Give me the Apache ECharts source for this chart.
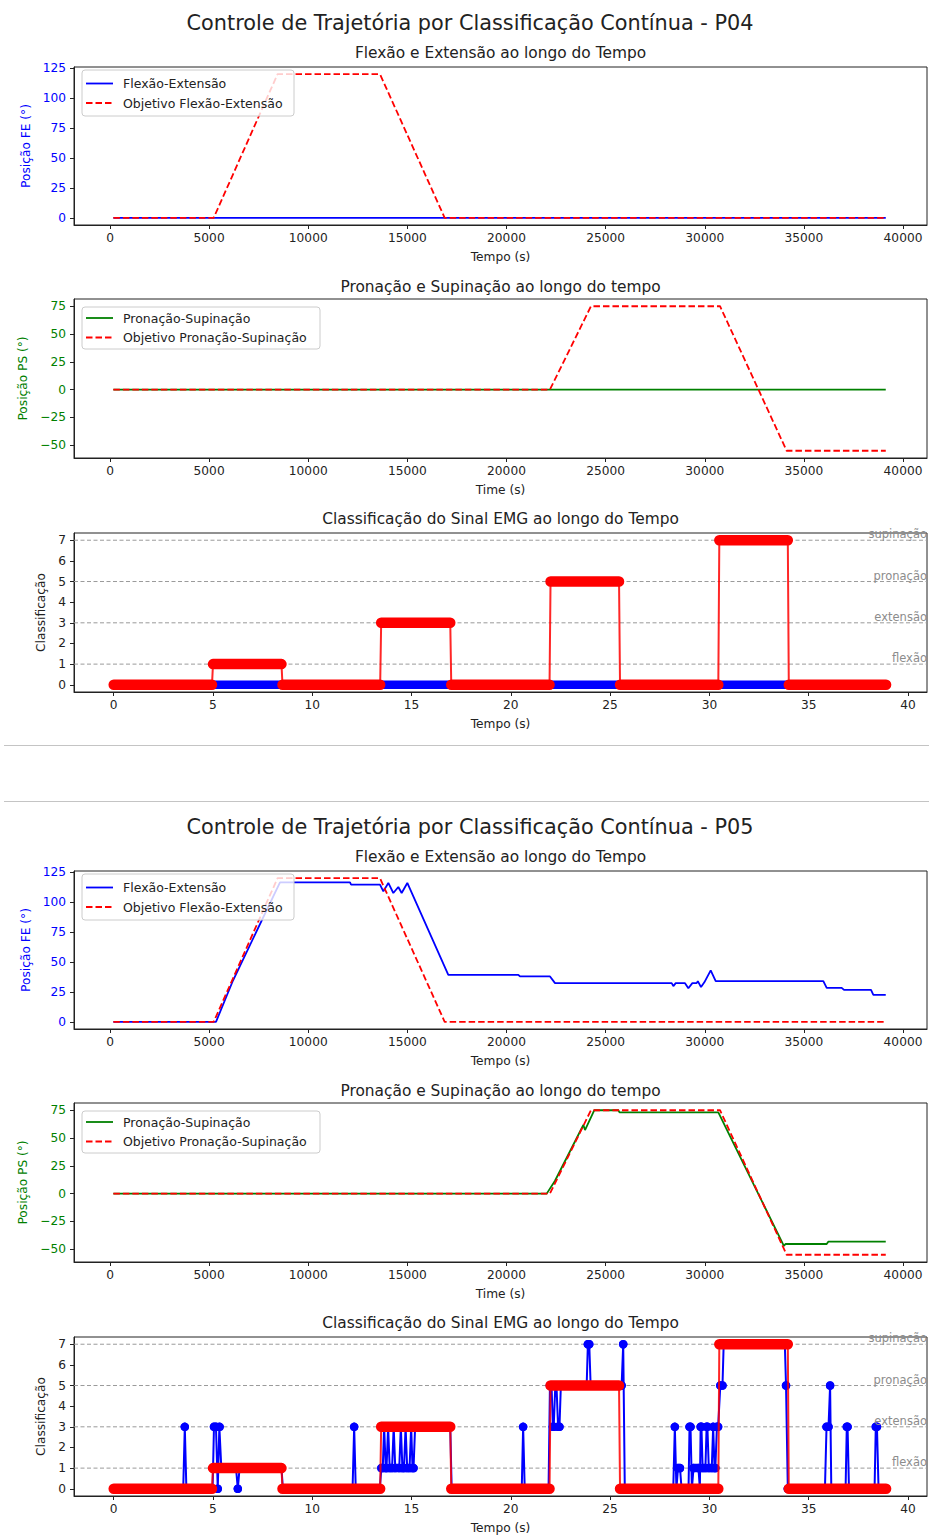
<!DOCTYPE html>
<html><head><meta charset="utf-8">
<script src="https://cdn.jsdelivr.net/npm/echarts@6/dist/echarts.min.js"></script>
<style>html,body{margin:0;padding:0;background:#fff}#c{width:929px;height:1535px}</style>
</head><body><div id="c"></div>
<script>
// ================= DATA =================
const msTicks = [0, 5000, 10000, 15000, 20000, 25000, 30000, 35000, 40000];
const feTicks = [0, 25, 50, 75, 100, 125];
const psTicks = [-50, -25, 0, 25, 50, 75];
const secTicks = [0, 5, 10, 15, 20, 25, 30, 35, 40];
const classTicks = [0, 1, 2, 3, 4, 5, 6, 7];
const classLevels = [1, 3, 5, 7];
const classNames = ['flexão', 'extensão', 'pronação', 'supinação'];

// target trajectories (ms, degrees)
const targetFeT = [170, 5230, 8450, 13620, 16880, 39130];
const targetFeV = [0, 0, 120, 120, 0, 0];
const targetPsT = [170, 22190, 24260, 30770, 34130, 39130];
const targetPsV = [0, 0, 75, 75, -55, -55];

// P04 measured
const p04FeT = [170, 39130];
const p04FeV = [0, 0];
const p04PsT = [170, 39130];
const p04PsV = [0, 0];

// P05 measured
const p05FeT = [170, 5347, 6204, 8575, 12106, 12160, 13619, 13787, 14039, 14291, 14543, 14711, 14997, 17064, 20597, 20680, 22195, 22447, 28332, 28416, 28534, 29004, 29172, 29374, 29592, 29650, 29811, 29979, 30300, 30552, 35981, 36150, 36907, 37024, 38386, 38504, 39130];
const p05FeV = [0, 0, 34.5, 116.5, 116.5, 114.6, 114.6, 109, 116, 107.6, 112.6, 107.6, 116, 39.3, 39.3, 37.9, 37.9, 32.3, 32.3, 29.8, 32.3, 32.3, 28, 32.3, 32.3, 34, 29, 33, 43, 34, 34, 28.4, 28.4, 26.7, 26.7, 22.5, 22.5];
const p05PsT = [170, 22027, 22447, 23876, 23960, 24430, 25641, 25700, 30685, 33990, 34080, 36150, 36230, 39130];
const p05PsV = [0, 0, 11.6, 61.7, 57.2, 75, 75, 73, 73, -47, -45.3, -45.3, -43.2, -43.2];

// classification runs: [start s, end s, class]
const targetClassRuns = [[0, 4.95, 0], [5.0, 8.45, 1], [8.5, 13.42, 0], [13.47, 16.95, 3], [17.0, 21.95, 0], [22.0, 25.45, 5], [25.5, 30.45, 0], [30.5, 33.95, 7], [34.0, 38.9, 0]];
const p04ClassRuns = [[0, 38.9, 0]];
const p05ClassRuns = [
 [0, 3.5, 0], [3.58, 3.58, 3], [3.66, 4.98, 0], [5.05, 5.15, 3], [5.24, 5.24, 0], [5.32, 5.34, 3],
 [5.42, 6.16, 1], [6.25, 6.25, 0], [6.34, 8.45, 1], [8.52, 12.03, 0], [12.11, 12.11, 3], [12.19, 13.4, 0],
 [13.48, 13.55, 1], [13.62, 13.62, 3], [13.7, 13.74, 1], [13.82, 13.82, 3], [13.9, 14.02, 1], [14.1, 14.1, 3],
 [14.18, 14.38, 1], [14.46, 14.46, 3], [14.54, 14.62, 1], [14.7, 14.7, 3], [14.78, 14.9, 1], [14.98, 14.98, 3],
 [15.05, 15.1, 1], [15.18, 16.95, 3], [17.02, 20.55, 0], [20.62, 20.62, 3], [20.7, 21.9, 0], [21.97, 22.05, 5],
 [22.12, 22.16, 3], [22.24, 22.3, 5], [22.38, 22.45, 3], [22.52, 23.82, 5], [23.88, 23.95, 7], [24.02, 25.58, 5],
 [25.66, 25.66, 7], [25.74, 28.18, 0], [28.26, 28.26, 3], [28.34, 28.34, 0], [28.42, 28.52, 1], [28.6, 28.95, 0],
 [29.0, 29.05, 3], [29.12, 29.12, 0], [29.2, 29.45, 1], [29.52, 29.52, 0], [29.56, 29.6, 3], [29.66, 29.8, 1],
 [29.86, 29.9, 3], [29.97, 30.12, 1], [30.19, 30.19, 3], [30.26, 30.3, 1], [30.38, 30.44, 3], [30.55, 30.66, 5],
 [30.72, 33.8, 7], [33.86, 33.86, 5], [33.95, 35.82, 0], [35.9, 36.0, 3], [36.08, 36.08, 5], [36.14, 36.86, 0],
 [36.92, 36.96, 3], [37.03, 38.32, 0], [38.38, 38.44, 3], [38.52, 38.9, 0]
];

// ================= HELPERS =================
const FONT = '"DejaVu Sans", sans-serif';
const TXT = '#222';
const BLUE = '#0000ff', RED = '#ff0000', GREEN = '#008000';
const fmt = v => v < 0 ? '\u2212' + Math.abs(v) : String(v);
const xy = (ts, vs) => ts.map((t, i) => [t, vs[i]]);
const runLine = runs => { const o = []; runs.forEach(r => { o.push([r[0], r[2]], [r[1], r[2]]); }); return o; };
const runBand = runs => { const o = []; runs.forEach(r => { o.push([r[0], r[2]], [r[1], r[2]], [NaN, NaN]); }); return o; };

const OFF = 804;
const gridTops = [67, 299, 533, 67 + OFF, 299 + OFF, 533 + OFF];
const gridHeights = [158, 159, 159, 158, 159, 159];
const msRange = [-1816, 41210];
const secRange = [-2.0, 40.96];

function xAx(gi, range, ticks, name) {
  return {
    gridIndex: gi, type: 'value', min: range[0], max: range[1], name, nameLocation: 'middle', nameGap: 26,
    nameTextStyle: { color: TXT, fontSize: 12.2, fontFamily: FONT },
    axisLine: { show: true, onZero: false, lineStyle: { color: TXT, width: 1 } },
    axisTick: { show: true, length: 4, lineStyle: { color: TXT, width: 1 }, customValues: ticks },
    axisLabel: { show: true, margin: 7, color: TXT, fontSize: 12.2, fontFamily: FONT, customValues: ticks, formatter: fmt },
    splitLine: { show: false }
  };
}
function yAx(gi, min, max, ticks, name, color, nameGap) {
  return {
    gridIndex: gi, type: 'value', min, max, name, nameLocation: 'middle', nameGap,
    nameTextStyle: { color, fontSize: 12.2, fontFamily: FONT },
    axisLine: { show: true, onZero: false, lineStyle: { color: TXT, width: 1 } },
    axisTick: { show: true, length: 4, lineStyle: { color: TXT, width: 1 }, customValues: ticks },
    axisLabel: { show: true, margin: 8, color, fontSize: 12.2, fontFamily: FONT, customValues: ticks, formatter: fmt },
    splitLine: { show: false }
  };
}

const grids = gridTops.map((t, i) => ({ left: 74, top: t, width: 853, height: gridHeights[i], show: true, borderColor: TXT, borderWidth: 1, backgroundColor: 'transparent' }));

const xAxes = [], yAxes = [];
for (let f = 0; f < 2; f++) {
  const b = f * 3;
  xAxes.push(xAx(b, msRange, msTicks, 'Tempo (s)'));
  xAxes.push(xAx(b + 1, msRange, msTicks, 'Time (s)'));
  xAxes.push(xAx(b + 2, secRange, secTicks, 'Tempo (s)'));
  yAxes.push(yAx(b, -6, 126, feTicks, 'Posição FE (°)', BLUE, 40));
  yAxes.push(yAx(b + 1, -61.5, 81.5, psTicks, 'Posição PS (°)', GREEN, 40));
  yAxes.push(yAx(b + 2, -0.35, 7.35, classTicks, 'Classificação', TXT, 23));
}

function lineS(idx, data, color, width, dash, z) {
  return { type: 'line', xAxisIndex: idx, yAxisIndex: idx, data, symbol: 'none', z,
    lineStyle: { color, width, type: dash ? [6.5, 3] : 'solid' }, itemStyle: { color }, animation: false, silent: true };
}

function classSeries(idx, measuredRuns) {
  const refData = [];
  classLevels.forEach(v => { refData.push([secRange[0], v], [secRange[1], v], [NaN, NaN]); });
  return [
    { type: 'line', xAxisIndex: idx, yAxisIndex: idx, data: refData, symbol: 'none', connectNulls: false, z: 1, silent: true, animation: false,
      lineStyle: { color: '#9a9a9a', width: 1, type: [4, 2.5] },
      markLine: { symbol: ['none', 'none'], silent: true, animation: false,
        lineStyle: { color: 'rgba(255,255,255,0)', width: 0 },
        label: { show: true, position: 'insideEndTop', distance: 0, formatter: p => p.name, color: '#8c8c8c', fontSize: 11.5, fontFamily: FONT },
        data: classLevels.map((v, i) => ({ yAxis: v, name: classNames[i] })) } },
    { type: 'line', xAxisIndex: idx, yAxisIndex: idx, data: runLine(measuredRuns), symbol: 'circle', symbolSize: 8.5, showSymbol: true, z: 2,
      lineStyle: { color: BLUE, width: 2 }, itemStyle: { color: BLUE }, animation: false, silent: true },
    { type: 'line', xAxisIndex: idx, yAxisIndex: idx, data: runBand(measuredRuns), symbol: 'none', connectNulls: false, z: 2,
      lineStyle: { color: BLUE, width: 8.5, cap: 'round' }, animation: false, silent: true },
    { type: 'line', xAxisIndex: idx, yAxisIndex: idx, data: runLine(targetClassRuns), symbol: 'none', z: 3,
      lineStyle: { color: RED, width: 2, opacity: 0.85 }, animation: false, silent: true },
    { type: 'line', xAxisIndex: idx, yAxisIndex: idx, data: runBand(targetClassRuns), symbol: 'none', connectNulls: false, z: 3,
      lineStyle: { color: RED, width: 10.5, cap: 'round' }, animation: false, silent: true }
  ];
}

const series = [
  lineS(0, xy(p04FeT, p04FeV), BLUE, 1.8, false, 2),
  lineS(0, xy(targetFeT, targetFeV), RED, 1.8, true, 3),
  lineS(1, xy(p04PsT, p04PsV), GREEN, 1.8, false, 2),
  lineS(1, xy(targetPsT, targetPsV), RED, 1.8, true, 3),
  ...classSeries(2, p04ClassRuns),
  lineS(3, xy(p05FeT, p05FeV), BLUE, 1.8, false, 2),
  lineS(3, xy(targetFeT, targetFeV), RED, 1.8, true, 3),
  lineS(4, xy(p05PsT, p05PsV), GREEN, 1.8, false, 2),
  lineS(4, xy(targetPsT, targetPsV), RED, 1.8, true, 3),
  ...classSeries(5, p05ClassRuns)
];

function ttl(text, cx, top, size) {
  return { text, left: cx, top, textAlign: 'center', padding: 0, textStyle: { color: TXT, fontSize: size, fontWeight: 'normal', fontFamily: FONT } };
}
const titles = [];
['P04', 'P05'].forEach((p, f) => {
  const o = f * OFF;
  titles.push(ttl('Controle de Trajetória por Classificação Contínua - ' + p, 470, 12 + o, 20.8));
  titles.push(ttl('Flexão e Extensão ao longo do Tempo', 500.5, 45 + o, 15.4));
  titles.push(ttl('Pronação e Supinação ao longo do tempo', 500.5, 279 + o, 15.4));
  titles.push(ttl('Classificação do Sinal EMG ao longo do Tempo', 500.5, 511 + o, 15.4));
});

function legend(x, y, w, h, rows) {
  const els = [{ type: 'rect', z: 100, shape: { x, y, width: w, height: h, r: 3 }, style: { fill: 'rgba(255,255,255,0.8)', stroke: '#cccccc', lineWidth: 1 } }];
  rows.forEach(r => {
    els.push({ type: 'line', z: 101, shape: { x1: x + 4, y1: r.y, x2: x + 31, y2: r.y }, style: { stroke: r.color, lineWidth: 1.8, lineDash: r.dash ? [6.5, 3] : null } });
    els.push({ type: 'text', z: 101, style: { text: r.text, x: x + 41, y: r.y, fill: TXT, font: '12.5px ' + FONT, textAlign: 'left', textVerticalAlign: 'middle', verticalAlign: 'middle' } });
  });
  return els;
}
const graphics = [];
[0, OFF].forEach(o => {
  graphics.push(...legend(82, 70 + o, 212, 46, [
    { y: 83.5 + o, color: BLUE, dash: false, text: 'Flexão-Extensão' },
    { y: 103 + o, color: RED, dash: true, text: 'Objetivo Flexão-Extensão' }]));
  graphics.push(...legend(82, 307 + o, 238, 42, [
    { y: 318 + o, color: GREEN, dash: false, text: 'Pronação-Supinação' },
    { y: 337.5 + o, color: RED, dash: true, text: 'Objetivo Pronação-Supinação' }]));
});
graphics.push({ type: 'line', z: 100, shape: { x1: 4, y1: 745.5, x2: 929, y2: 745.5 }, style: { stroke: '#c4c4c4', lineWidth: 1 } });
graphics.push({ type: 'line', z: 100, shape: { x1: 4, y1: 801.5, x2: 929, y2: 801.5 }, style: { stroke: '#c4c4c4', lineWidth: 1 } });

const chart = echarts.init(document.getElementById('c'), null, { renderer: 'svg', width: 929, height: 1535 });
chart.setOption({
  backgroundColor: '#fff',
  animation: false,
  title: titles,
  grid: grids,
  xAxis: xAxes,
  yAxis: yAxes,
  series,
  graphic: graphics
});
</script>
</body></html>
